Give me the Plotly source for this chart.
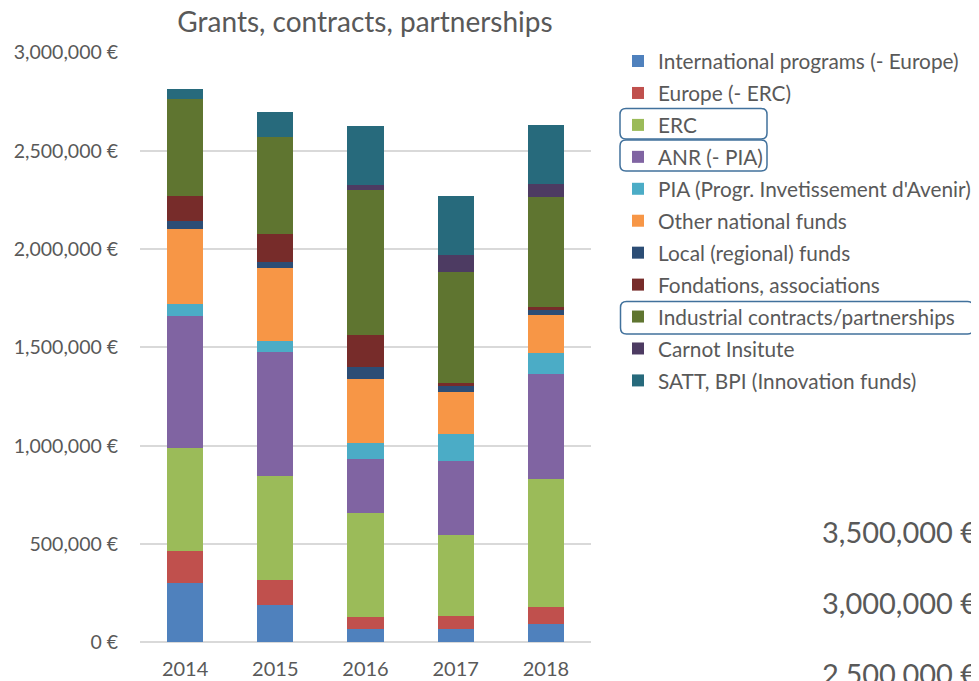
import plotly.graph_objects as go

# the page body adds an 8px margin, so the figure is drawn 8px smaller
# and every position below is given in reference-picture pixels
OFF = 8
W, H = 979 - OFF, 681 - OFF

PLOT_LEFT, PLOT_RIGHT = 140, 591
PLOT_TOP, PLOT_BOTTOM = 52.5, 642.3

years = ["2014", "2015", "2016", "2017", "2018"]

international = [303000, 190000, 66000, 66000, 92000]
europe = [163000, 127000, 63000, 69000, 88000]
erc = [524000, 529000, 530000, 411000, 649000]
anr = [670000, 632000, 275000, 375000, 536000]
pia = [61000, 55000, 81000, 139000, 105000]
other_national = [380000, 369000, 324000, 212000, 193000]
local_funds = [43000, 31000, 63000, 32000, 34000]
fondations = [126000, 144000, 163000, 16000, 7000]
industrial = [494000, 492000, 736000, 564000, 559000]
carnot = [0, 0, 24000, 86000, 68000]
satt = [49000, 130000, 300000, 299000, 300000]

series = [
  ("International programs (- Europe)", international, "#4F81BD"),
  ("Europe (- ERC)", europe, "#C0504D"),
  ("ERC", erc, "#9BBB59"),
  ("ANR (- PIA)", anr, "#8064A2"),
  ("PIA (Progr. Invetissement d'Avenir)", pia, "#4BACC6"),
  ("Other national funds", other_national, "#F79646"),
  ("Local (regional) funds", local_funds, "#2C4D75"),
  ("Fondations, associations", fondations, "#772C2A"),
  ("Industrial contracts/partnerships", industrial, "#5F7530"),
  ("Carnot Insitute", carnot, "#4D3B62"),
  ("SATT, BPI (Innovation funds)", satt, "#276A7C"),
]

# stray axis labels from the neighbouring chart (cut off at bottom right)
stray_labels = ["3,500,000 €", "3,000,000 €", "2,500,000 €"]

FONT = "Lato"
GREY = "#595959"

def fx(x):
  return (x - OFF) / W

def fy(y):
  return 1 - (y - OFF) / H

def rounded_box(x0, y0, x1, y1, r=6):
  a, b, c, d = fx(x0), fy(y0), fx(x1), fy(y1)
  rx, ry = r / W, r / H
  return (f"M{a+rx},{b} L{c-rx},{b} Q{c},{b} {c},{b-ry} "
          f"L{c},{d+ry} Q{c},{d} {c-rx},{d} L{a+rx},{d} "
          f"Q{a},{d} {a},{d+ry} L{a},{b-ry} Q{a},{b} {a+rx},{b} Z")

fig = go.Figure()
for name, values, color in series:
  fig.add_trace(go.Bar(
    x=years,
    y=values,
    name=name,
    legendgroup=name,
    marker_color=color,
    marker_line_width=0,
  ))

boxes = [
  (620, 108.5, 767, 139),
  (620, 140, 767, 171),
  (620.5, 301.5, 973.5, 334),
]
shapes = [
  dict(type="path", xref="paper", yref="paper", path=rounded_box(*b),
       line=dict(color="#41719C", width=1.5))
  for b in boxes
]

# placed on a hidden pixel axis so they do not push the margins
annotations = [
  dict(text=t, xref="x2", yref="y2", x=820 - OFF, y=531.7 + 71 * i - OFF,
       xanchor="left", yanchor="middle", showarrow=False,
       font=dict(family=FONT, size=29, color=GREY))
  for i, t in enumerate(stray_labels)
]

fig.update_layout(
  width=W, height=H,
  margin=dict(l=0, r=0, t=0, b=0, pad=0),
  barmode="stack",
  bargap=0.6,
  plot_bgcolor="rgba(0,0,0,0)",
  paper_bgcolor="white",
  font=dict(family=FONT, size=20, color=GREY),
  title=dict(text="Grants, contracts, partnerships", xref="paper", x=fx(365),
             xanchor="center", yref="container", y=1 - 4 / H,
             yanchor="top", font=dict(size=28, color=GREY)),
  xaxis=dict(domain=[fx(PLOT_LEFT), fx(PLOT_RIGHT)], showgrid=False, showline=False,
             ticks="outside", ticklen=9, tickcolor="rgba(0,0,0,0)",
             tickfont=dict(size=20), automargin=False),
  yaxis=dict(domain=[fy(PLOT_BOTTOM), fy(PLOT_TOP)], range=[0, 3000000], dtick=500000,
             tickformat=",.0f", ticksuffix=" €", automargin=False,
             gridcolor="#D9D9D9", gridwidth=1.5, zeroline=True, zerolinecolor="#D9D9D9",
             zerolinewidth=1.5, showline=False, ticks="outside", ticklen=17,
             tickcolor="rgba(0,0,0,0)", tickfont=dict(size=19.5)),
  xaxis2=dict(domain=[0, 1], range=[0, W], anchor="y2", visible=False, fixedrange=True),
  yaxis2=dict(domain=[0, 1], range=[H, 0], anchor="x2", visible=False, fixedrange=True),
  legend=dict(x=fx(618), y=fy(41), xanchor="left", yanchor="top",
              traceorder="grouped", tracegroupgap=1.9,
              font=dict(size=20.8, color=GREY), bgcolor="rgba(0,0,0,0)"),
  shapes=shapes,
  annotations=annotations,
)

fig.write_html("out.html")
